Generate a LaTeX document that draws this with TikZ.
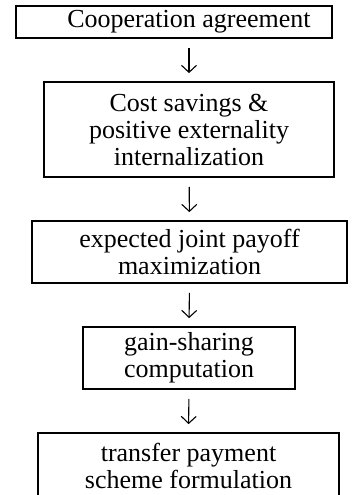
\documentclass[tikz,border=0pt]{standalone}
\usepackage{fontspec}
\setmainfont{Liberation Serif}
\usetikzlibrary{arrows.meta}

\tikzset{
  stage/.style={draw, line width=1.8pt, inner sep=0pt, align=center,
    font=\fontsize{26}{27}\selectfont},
  flow/.style={line width=1.1pt, -{Straight Barb[length=7pt,width=15pt,line width=1.1pt]},
    shorten <=9pt, shorten >=8pt}
}

\begin{document}
\begin{tikzpicture}[x=1pt,y=-1pt]
  \useasboundingbox (0,0) rectangle (353,495);

  % process stages, top to bottom
  \node[stage, minimum width=316pt, minimum height=32pt] (agree) at (174,22)
    {\hspace*{30pt}Cooperation agreement};
  \node[stage, minimum width=290pt, minimum height=95pt] (save) at (189,129.5)
    {Cost savings \&\\positive externality\\internalization};
  \node[stage, minimum width=315pt, minimum height=62pt] (payoff) at (189.5,252)
    {expected joint payoff\\maximization};
  \node[stage, minimum width=212pt, minimum height=62pt] (share) at (189,358)
    {gain-sharing\\computation};
  \node[stage, minimum width=301pt, minimum height=66pt] (transfer) at (188.5,466)
    {transfer payment\\scheme formulation};

  % downward links between stages
  \draw[flow] (agree.south -| save.north) -- (save.north);
  \draw[flow] (save) -- (payoff);
  \draw[flow] (payoff.south) -- (share.north);
  \draw[flow] (share.south) -- (transfer.north);
\end{tikzpicture}
\end{document}
